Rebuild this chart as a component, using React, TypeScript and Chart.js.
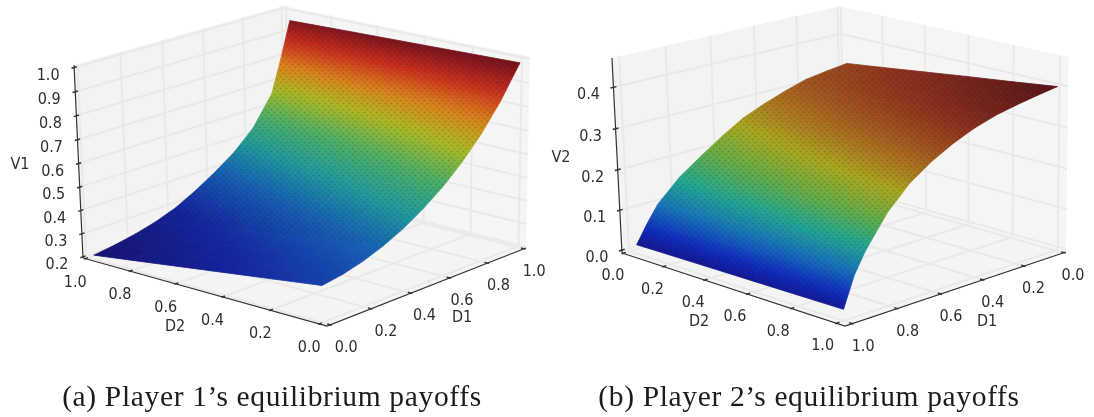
import React, { useEffect, useRef } from "react";
import { Chart, registerables } from "chart.js";

Chart.register(...registerables);

// ---------- data ----------
const D1_GRID = [0, 0.1, 0.2, 0.3, 0.4, 0.5, 0.6, 0.7, 0.8, 0.9, 0.95, 1];

const V1_D2_ROWS = [0, 0.2, 0.4, 0.6, 0.8, 0.975];
const V1_AT_D2_00 = [0.348, 0.362, 0.385, 0.417, 0.458, 0.51, 0.572, 0.647, 0.738, 0.848, 0.915, 0.98];
const V1_AT_D2_02 = [0.32, 0.334, 0.356, 0.386, 0.425, 0.476, 0.536, 0.608, 0.695, 0.808, 0.89, 0.975];
const V1_AT_D2_04 = [0.292, 0.306, 0.326, 0.355, 0.392, 0.441, 0.499, 0.568, 0.653, 0.769, 0.867, 0.97];
const V1_AT_D2_06 = [0.264, 0.278, 0.297, 0.324, 0.359, 0.407, 0.463, 0.529, 0.61, 0.73, 0.845, 0.965];
const V1_AT_D2_08 = [0.236, 0.25, 0.267, 0.292, 0.326, 0.372, 0.427, 0.49, 0.567, 0.694, 0.82, 0.96];
const V1_AT_D2_10 = [0.212, 0.225, 0.242, 0.265, 0.297, 0.342, 0.395, 0.455, 0.535, 0.66, 0.8, 0.955];

const V2_D2_ROWS = [0.035, 0.2, 0.4, 0.6, 0.8, 1];
const V2_AT_D2_00 = [0.33, 0.323, 0.315, 0.299, 0.28, 0.258, 0.226, 0.19, 0.152, 0.1, 0.06, 0.015];
const V2_AT_D2_02 = [0.341, 0.334, 0.326, 0.311, 0.292, 0.27, 0.239, 0.203, 0.163, 0.107, 0.065, 0.016];
const V2_AT_D2_04 = [0.355, 0.348, 0.339, 0.325, 0.307, 0.285, 0.255, 0.219, 0.175, 0.115, 0.072, 0.017];
const V2_AT_D2_06 = [0.369, 0.361, 0.352, 0.339, 0.322, 0.3, 0.27, 0.234, 0.188, 0.123, 0.079, 0.018];
const V2_AT_D2_08 = [0.382, 0.375, 0.366, 0.353, 0.337, 0.315, 0.286, 0.25, 0.201, 0.132, 0.085, 0.019];
const V2_AT_D2_10 = [0.396, 0.388, 0.379, 0.368, 0.352, 0.33, 0.302, 0.266, 0.214, 0.14, 0.092, 0.02];

const D_TICKS = [0, 0.2, 0.4, 0.6, 0.8, 1];
const V1_TICKS = [0.2, 0.3, 0.4, 0.5, 0.6, 0.7, 0.8, 0.9, 1];
const V2_TICKS = [0, 0.1, 0.2, 0.3, 0.4];

const CAPTION_A = "(a) Player 1\u2019s equilibrium payoffs";
const CAPTION_B = "(b) Player 2\u2019s equilibrium payoffs";

// ---------- colour ramps (shaded jet) ----------
const RAMP_A = [
  [24, 16, 108], [20, 36, 155], [22, 90, 180], [32, 155, 155], [80, 175, 100],
  [172, 186, 35], [218, 130, 30], [202, 46, 30], [118, 20, 30],
];
const RAMP_B = [
  [22, 14, 125], [16, 44, 190], [24, 115, 185], [34, 168, 145], [100, 172, 72],
  [168, 168, 32], [170, 102, 32], [140, 50, 30], [88, 20, 26],
];

// ---------- camera: a projective map from the unit box to the page ----------
const PANELS = [
  {
    x0: 0,
    cam: { O: [327, 326], R: [526, 248], L: [83, 258], T: [325, 123.2], wx: 1.07, wy: 1.06, wz: 0.97 },
    u: (d1: number) => 0.015 + 0.975 * d1,
    v: (d2: number) => 0.03 + 0.96 * d2,
    t: (z: number) => (z - 0.195) / 0.815,
    rows: V1_D2_ROWS,
    table: [V1_AT_D2_00, V1_AT_D2_02, V1_AT_D2_04, V1_AT_D2_06, V1_AT_D2_08, V1_AT_D2_10],
    ramp: RAMP_A,
    vmin: 0.2,
    vmax: 0.97,
    zTicks: V1_TICKS,
    stippleFrom: 3,
    caption: CAPTION_A,
    captionX: 272,
    labels: [
      { text: "V1", x: 20, y: 165 },
      { text: "D2", x: 175, y: 327 },
      { text: "D1", x: 462, y: 318 },
    ],
    offD1: (d: number) => [16 - 6 * d, 23],
    offD2: (d: number) => [-10, 24],
    offZ: [-26, 8],
  },
  {
    x0: 547,
    cam: { O: [845, 326], R: [1066, 252], L: [622, 253], T: [841, 117.2], wx: 1.08, wy: 1.08, wz: 0.97 },
    u: (d1: number) => 0.99 - 0.96 * d1,
    v: (d2: number) => 0.995 - 0.96 * d2,
    t: (z: number) => 0.015 + (z / 0.47) * 0.985,
    rows: V2_D2_ROWS,
    table: [V2_AT_D2_00, V2_AT_D2_02, V2_AT_D2_04, V2_AT_D2_06, V2_AT_D2_08, V2_AT_D2_10],
    ramp: RAMP_B,
    vmin: 0,
    vmax: 0.396,
    zTicks: V2_TICKS,
    stippleFrom: 0,
    caption: CAPTION_B,
    captionX: 809,
    labels: [
      { text: "V2", x: 561, y: 158 },
      { text: "D2", x: 699, y: 322 },
      { text: "D1", x: 987, y: 322 },
    ],
    offD1: (d: number) => [9 + 2 * d, 23],
    offD2: (d: number) => [-10 - 4 * d, 23],
    offZ: [-25, 8],
  },
];

type P = { x: number; y: number };

function projector(cam: any) {
  const { O, R, L, T, wx, wy, wz } = cam;
  return (u: number, v: number, t: number): P => {
    const w = 1 + u * (wx - 1) + v * (wy - 1) + t * (wz - 1);
    const c = (i: number) =>
      O[i] + u * (wx * R[i] - O[i]) + v * (wy * L[i] - O[i]) + t * (wz * T[i] - O[i]);
    return { x: c(0) / w, y: c(1) / w };
  };
}

function rampColor(ramp: number[][], f: number) {
  const s = Math.max(0, Math.min(1, f)) * (ramp.length - 1);
  const i = Math.min(ramp.length - 2, Math.floor(s));
  const k = s - i;
  const ch = (n: number) => Math.round(ramp[i][n] + (ramp[i + 1][n] - ramp[i][n]) * k);
  return `rgb(${ch(0)},${ch(1)},${ch(2)})`;
}

function stipple(ctx: CanvasRenderingContext2D, alpha: number) {
  const tile = document.createElement("canvas");
  tile.width = 6;
  tile.height = 6;
  const c = tile.getContext("2d")!;
  c.fillStyle = `rgba(25,20,20,${alpha})`;
  c.beginPath();
  c.arc(1.5, 1.5, 1, 0, 7);
  c.arc(4.5, 4.5, 1, 0, 7);
  c.fill();
  return ctx.createPattern(tile, "repeat")!;
}

function buildDatasets(panel: any) {
  const project = projector(panel.cam);
  const list: any[] = [];
  const line = (pts: P[], color: string, width: number) =>
    list.push({ data: pts, showLine: true, fill: false, borderColor: color, borderWidth: width, pointRadius: 0 });
  const poly = (pts: P[], color: any, edge: any = color, width = 0) =>
    list.push({
      data: [...pts, pts[0]],
      showLine: true,
      fill: "shape",
      backgroundColor: color,
      borderColor: edge,
      borderWidth: width,
      pointRadius: 0,
    });

  // panes
  poly([project(0, 1, 0), project(1, 1, 0), project(1, 1, 1), project(0, 1, 1)], "#f3f3f3");
  poly([project(1, 0, 0), project(1, 1, 0), project(1, 1, 1), project(1, 0, 1)], "#f5f5f5");
  poly([project(0, 0, 0), project(1, 0, 0), project(1, 1, 0), project(0, 1, 0)], "#f4f4f4");

  // grid lines
  const gridColor = "#e9e9e9";
  const gw = 2;
  for (const d of D_TICKS) {
    const u = panel.u(d);
    const v = panel.v(d);
    line([project(u, 1, 0), project(u, 1, 1)], gridColor, gw);
    line([project(u, 0, 0), project(u, 1, 0)], gridColor, gw);
    line([project(1, v, 0), project(1, v, 1)], gridColor, gw);
    line([project(0, v, 0), project(1, v, 0)], gridColor, gw);
  }
  for (const z of panel.zTicks) {
    const t = panel.t(z);
    line([project(0, 1, t), project(1, 1, t), project(1, 0, t)], gridColor, gw);
  }

  // axes and ticks
  const axis = "#333333";
  line([project(0, 1, 0), project(0, 1, 1)], axis, 1.2);
  line([project(0, 1, 0), project(0, 0, 0), project(1, 0, 0)], axis, 1.2);
  for (const d of D_TICKS) {
    const u = panel.u(d);
    const v = panel.v(d);
    line([project(u, -0.006, 0), project(u, 0.012, 0)], axis, 1.5);
    line([project(-0.006, v, 0), project(0.012, v, 0)], axis, 1.5);
  }
  for (const z of panel.zTicks) {
    const t = panel.t(z);
    line([project(-0.012, 1, t), project(0.012, 1, t)], axis, 1.5);
  }

  // surface
  const { rows, table, ramp, vmin, vmax } = panel;
  const at = (r: number, c: number) => project(panel.u(D1_GRID[c]), panel.v(rows[r]), panel.t(table[r][c]));
  const frac = (z: number) => (z - vmin) / (vmax - vmin);
  for (let r = 0; r < rows.length - 1; r++) {
    for (let c = 0; c < D1_GRID.length - 1; c++) {
      const a = at(r, c), b = at(r, c + 1), d = at(r + 1, c + 1), e = at(r + 1, c);
      const za = table[r][c], zb = table[r][c + 1], zd = table[r + 1][c + 1], ze = table[r + 1][c];
      const paint = (ctx: any) => {
        const chart = ctx.chart;
        const sx = (p: P) => chart.scales.x.getPixelForValue(p.x);
        const sy = (p: P) => chart.scales.y.getPixelForValue(p.y);
        const e1x = (sx(b) - sx(a) + sx(d) - sx(e)) / 2, e1y = (sy(b) - sy(a) + sy(d) - sy(e)) / 2;
        const e2x = (sx(e) - sx(a) + sx(d) - sx(b)) / 2, e2y = (sy(e) - sy(a) + sy(d) - sy(b)) / 2;
        const d1 = (zb - za + zd - ze) / 2, d2 = (ze - za + zd - zb) / 2;
        const det = e1x * e2y - e1y * e2x;
        const gx = (d1 * e2y - d2 * e1y) / det, gy = (e1x * d2 - e2x * d1) / det;
        const n = gx * gx + gy * gy || 1;
        const cx = (sx(a) + sx(b) + sx(d) + sx(e)) / 4, cy = (sy(a) + sy(b) + sy(d) + sy(e)) / 4;
        const zc = (za + zb + zd + ze) / 4;
        const lo = Math.min(za, zb, zd, ze), hi = Math.max(za, zb, zd, ze);
        const x1 = cx + (gx * (lo - zc)) / n, y1 = cy + (gy * (lo - zc)) / n;
        const x2 = cx + (gx * (hi - zc)) / n, y2 = cy + (gy * (hi - zc)) / n;
        if (![x1, y1, x2, y2].every(Number.isFinite)) return rampColor(ramp, frac(zc));
        const g = chart.ctx.createLinearGradient(x1, y1, x2, y2);
        for (let k = 0; k <= 4; k++) g.addColorStop(k / 4, rampColor(ramp, frac(lo + ((hi - lo) * k) / 4)));
        return g;
      };
      list.push({
        data: [a, b, d, e, a],
        showLine: true,
        fill: "shape",
        backgroundColor: paint,
        borderColor: paint,
        borderWidth: 0.8,
        pointRadius: 0,
      });
    }
  }

  // mesh-edge speckle over the coloured surface
  const last = rows.length - 1;
  const outline: P[] = [];
  for (let c = panel.stippleFrom; c < D1_GRID.length; c++) outline.push(at(0, c));
  for (let c = D1_GRID.length - 1; c >= panel.stippleFrom; c--) outline.push(at(last, c));
  list.push({
    data: [...outline, outline[0]],
    showLine: true,
    fill: "shape",
    backgroundColor: (ctx: any) => stipple(ctx.chart.ctx, 0.17),
    borderWidth: 0,
    pointRadius: 0,
  });

  // the chart paints higher indices first
  return list.reverse();
}

const TICK_FONT = '16px "DejaVu Sans Condensed", "DejaVu Sans", sans-serif';

const textPlugin = (panel: any) => ({
  id: "panelText",
  afterDatasetsDraw(chart: any) {
    const { ctx, scales } = chart;
    const project = projector(panel.cam);
    const put = (text: string, x: number, y: number) =>
      ctx.fillText(text, scales.x.getPixelForValue(x), scales.y.getPixelForValue(y));
    ctx.save();
    ctx.textAlign = "center";
    ctx.textBaseline = "middle";
    ctx.fillStyle = "#2e2e2e";
    ctx.font = TICK_FONT;
    for (const d of D_TICKS) {
      const a = project(panel.u(d), 0, 0);
      const oa = panel.offD1(d);
      put(d.toFixed(1), a.x + oa[0], a.y + oa[1]);
      const b = project(0, panel.v(d), 0);
      const ob = panel.offD2(d);
      put(d.toFixed(1), b.x + ob[0], b.y + ob[1]);
    }
    for (const z of panel.zTicks) {
      const c = project(0, 1, panel.t(z));
      put(z.toFixed(1), c.x + panel.offZ[0], c.y + panel.offZ[1]);
    }
    for (const l of panel.labels) put(l.text, l.x, l.y);
    ctx.fillStyle = "#1c1c1c";
    ctx.font = '29.5px "Liberation Serif"';
    ctx.letterSpacing = "0.65px";
    ctx.textBaseline = "alphabetic";
    put(panel.caption, panel.captionX, 406);
    ctx.restore();
  },
});

function Panel({ panel }: { panel: any }) {
  const ref = useRef<HTMLCanvasElement>(null);
  useEffect(() => {
    const chart = new Chart(ref.current!, {
      type: "scatter",
      data: { datasets: buildDatasets(panel) },
      options: {
        animation: false,
        responsive: false,
        events: [],
        layout: { padding: 0 },
        plugins: { legend: { display: false }, tooltip: { enabled: false }, title: { display: false } },
        scales: {
          x: { type: "linear", display: false, min: panel.x0, max: panel.x0 + 547 },
          y: { type: "linear", display: false, min: 0, max: 417, reverse: true },
        },
      },
      plugins: [textPlugin(panel)],
    } as any);
    return () => chart.destroy();
  }, [panel]);
  return (
    <canvas
      ref={ref}
      width={547}
      height={417}
      style={{ position: "absolute", left: panel.x0, top: 0, width: 547, height: 417, filter: "blur(0.45px)" }}
    />
  );
}

export default function App() {
  return (
    <div style={{ position: "absolute", left: 0, top: 0, width: 1094, height: 417, background: "#fff" }}>
      {PANELS.map((p) => (
        <Panel key={p.x0} panel={p} />
      ))}
    </div>
  );
}
